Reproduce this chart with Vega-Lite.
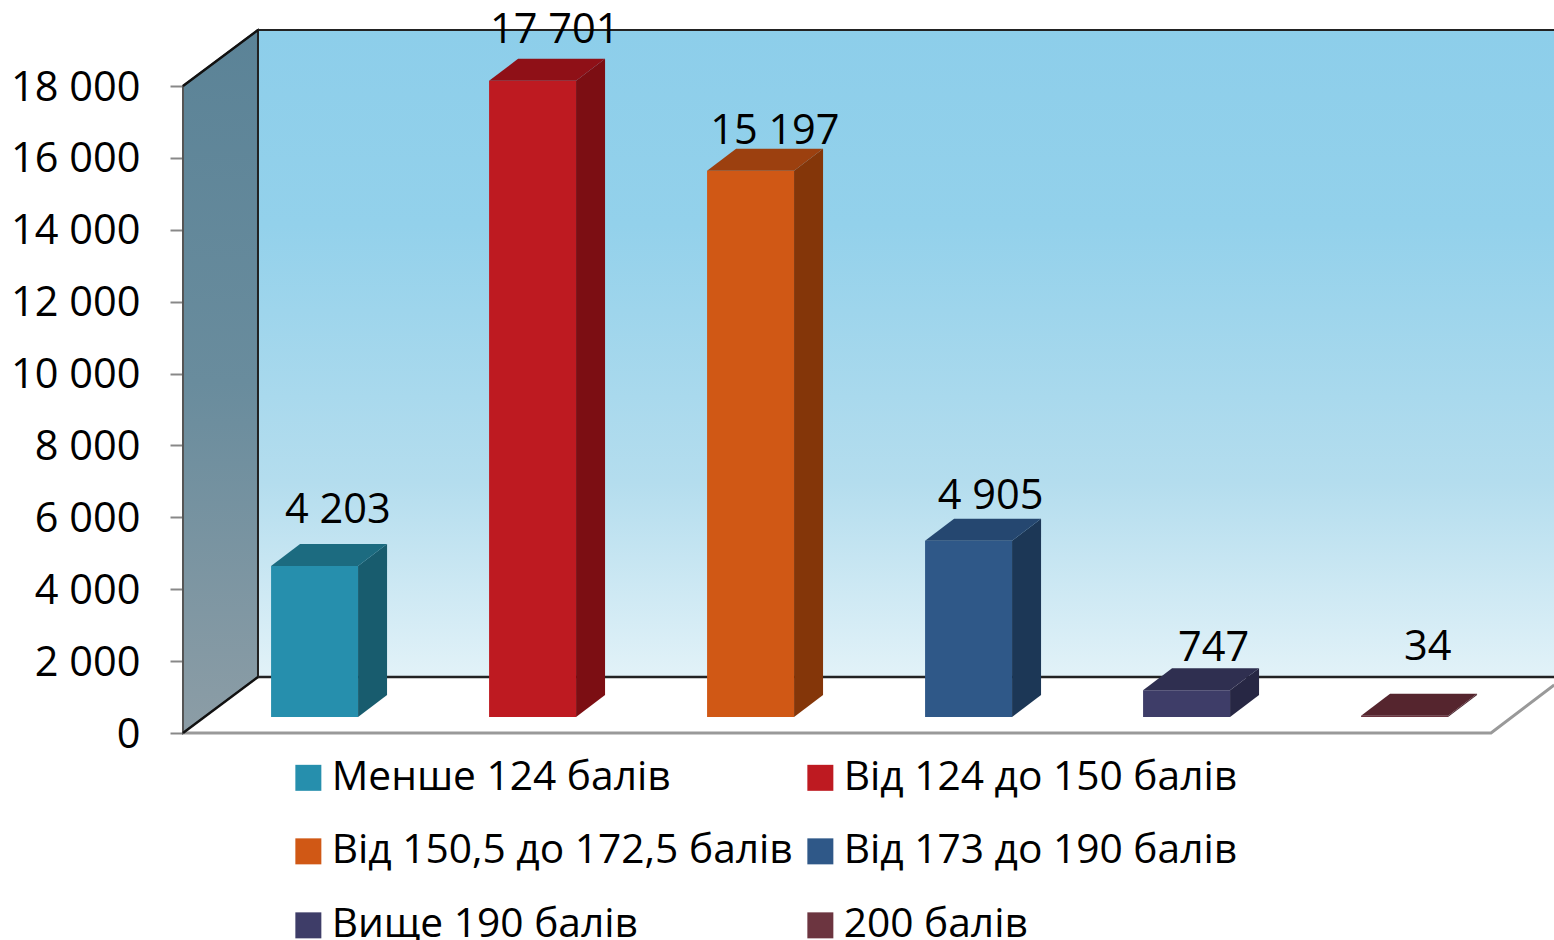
{
"$schema":"https://vega.github.io/schema/vega-lite/v6.json",
"width":1371,"height":733,
"autosize":{"type":"none"},
"padding":{"left":183,"top":0,"right":0,"bottom":207},
"background":"white",
"config":{"view":{"stroke":null},"font":"Open Sans"},
"datasets":{
"scores":[
{"category":"Менше 124 балів","students":4203},
{"category":"Від 124 до 150 балів","students":17701},
{"category":"Від 150,5 до 172,5 балів","students":15197},
{"category":"Від 173 до 190 балів","students":4905},
{"category":"Вище 190 балів","students":747},
{"category":"200 балів","students":34}
],
"corners":[{"t":0},{"t":1}]
},
"resolve":{"scale":{"color":"independent"}},
"layer":[
{"data":{"name":"corners"},
 "transform":[{"calculate":"datum.t*0.344","as":"x"},{"calculate":"datum.t*1558","as":"lo"},{"calculate":"18000+datum.t*1558","as":"hi"}],
 "mark":{"type":"area","orient":"vertical","stroke":"#555555","strokeWidth":2,"fill":{"gradient":"linear","x1":0,"y1":0,"x2":0,"y2":1,"stops":[{"offset":0,"color":"#5B8397"},{"offset":0.5,"color":"#698C9D"},{"offset":1,"color":"#8C9DA6"}]}},
 "encoding":{"x":{"field":"x","type":"quantitative","scale":{"domain":[0,6.289],"nice":false,"zero":false},"axis":null},
  "y":{"field":"lo","type":"quantitative","scale":{"domain":[0,20394],"nice":false},
   "axis":{"values":[0,2000,4000,6000,8000,10000,12000,14000,16000,18000],"title":null,"grid":false,"domain":false,"tickColor":"#888888","tickWidth":2,"tickSize":13,"labelPadding":30,"labelFontSize":41.5,"labelFontWeight":500,"labelOffset":2,"labelColor":"black","labelFont":"Open Sans","labelExpr":"replace(format(datum.value,','),',',' ')"}},
  "y2":{"field":"hi"}}},
{"data":{"name":"corners"},
 "transform":[{"calculate":"0.344+datum.t*5.96","as":"x"},{"calculate":"1558","as":"lo"},{"calculate":"19558","as":"hi"}],
 "mark":{"type":"area","orient":"vertical","stroke":"#222222","strokeWidth":2,"clip":true,"fill":{"gradient":"linear","x1":0,"y1":0,"x2":0,"y2":1,"stops":[{"offset":0,"color":"#8DCEEA"},{"offset":0.3,"color":"#93D1EB"},{"offset":0.7,"color":"#B4DDEE"},{"offset":1,"color":"#E2F2F8"}]}},
 "encoding":{"x":{"field":"x","type":"quantitative"},"y":{"field":"lo","type":"quantitative"},"y2":{"field":"hi"}}},
{"data":{"values":[{"p":0},{"p":0.344},{"p":6},{"p":6.29}]},
 "transform":[{"calculate":"datum.p","as":"x"},{"calculate":"datum.p>6?1335:0","as":"lo"},{"calculate":"datum.p>0?1558:0","as":"hi"}],
 "mark":{"type":"area","orient":"vertical","fill":"white"},
 "encoding":{"x":{"field":"x","type":"quantitative"},"y":{"field":"lo","type":"quantitative"},"y2":{"field":"hi"}}},
{"data":{"values":[{"p":0},{"p":6},{"p":6.29}]},
 "transform":[{"calculate":"datum.p","as":"x"},{"calculate":"datum.p>6?1335:0","as":"lo"}],
 "mark":{"type":"line","color":"#999999","strokeWidth":3},
 "encoding":{"x":{"field":"x","type":"quantitative"},"y":{"field":"lo","type":"quantitative"}}},
{"data":{"values":[{"p":0},{"p":0.344}]},
 "transform":[{"calculate":"datum.p","as":"x"},{"calculate":"datum.p>0?1558:0","as":"lo"}],
 "mark":{"type":"line","color":"#111111","strokeWidth":2.5},
 "encoding":{"x":{"field":"x","type":"quantitative"},"y":{"field":"lo","type":"quantitative"}}},
{"data":{"values":[{"p":0},{"p":0.344}]},
 "transform":[{"calculate":"datum.p","as":"x"},{"calculate":"18000+(datum.p>0?1558:0)","as":"lo"}],
 "mark":{"type":"line","color":"#111111","strokeWidth":2.5},
 "encoding":{"x":{"field":"x","type":"quantitative"},"y":{"field":"lo","type":"quantitative"}}},
{"data":{"values":[{"p":0.344},{"p":6.3}]},
 "transform":[{"calculate":"datum.p","as":"x"},{"calculate":"1558","as":"lo"}],
 "mark":{"type":"line","color":"#222222","strokeWidth":2.5},
 "encoding":{"x":{"field":"x","type":"quantitative"},"y":{"field":"lo","type":"quantitative"}}},
{"data":{"name":"scores"},
 "transform":[{"window":[{"op":"row_number","as":"n"}]},{"calculate":"datum.n-1+0.404","as":"x0"},{"calculate":"datum.n-1+0.803","as":"x1"},{"calculate":"datum.students+445","as":"top"},{"calculate":"445","as":"base"}],
 "mark":{"type":"rect"},
 "encoding":{"x":{"field":"x0","type":"quantitative"},"x2":{"field":"x1"},"y":{"field":"base","type":"quantitative"},"y2":{"field":"top"},
  "color":{"field":"category","type":"nominal","scale":{"domain":["Менше 124 балів","Від 124 до 150 балів","Від 150,5 до 172,5 балів","Від 173 до 190 балів","Вище 190 балів","200 балів"],"range":["#268FAD","#BE1A21","#D05815","#2F5888","#3E3D68","#6C3540"]},
   "legend":{"title":null,"orient":"none","legendX":105,"legendY":757,"columns":2,"direction":"horizontal","symbolType":"square","symbolSize":676,"symbolStrokeWidth":0,"symbolOpacity":1,"labelFontSize":40.7,"labelFontWeight":500,"labelFont":"Open Sans","labelColor":"black","labelLimit":600,"rowPadding":32,"columnPadding":7,"labelOffset":3,"gridAlign":"each"}}}},
{"data":{"name":"scores"},
 "transform":[{"window":[{"op":"row_number","as":"n"}]},{"calculate":"[0,1]","as":"t"},{"flatten":["t"]},{"calculate":"datum.n-1+0.803+datum.t*0.133","as":"x"},{"calculate":"445+datum.t*612","as":"lo"},{"calculate":"datum.students+445+datum.t*612","as":"hi"}],
 "mark":{"type":"area","orient":"vertical"},
 "encoding":{"x":{"field":"x","type":"quantitative"},"y":{"field":"lo","type":"quantitative"},"y2":{"field":"hi"},"detail":{"field":"category"},
  "color":{"field":"category","type":"nominal","legend":null,"scale":{"domain":["Менше 124 балів","Від 124 до 150 балів","Від 150,5 до 172,5 балів","Від 173 до 190 балів","Вище 190 балів","200 балів"],"range":["#185C6E","#7C0E13","#843609","#1C3756","#272744","#4A2530"]}}}},
{"data":{"name":"scores"},
 "transform":[{"window":[{"op":"row_number","as":"n"}]},{"calculate":"[0,1]","as":"t"},{"flatten":["t"]},{"calculate":"datum.n-1+0.404+datum.t*0.133","as":"lo"},{"calculate":"datum.n-1+0.803+datum.t*0.133","as":"hi"},{"calculate":"datum.students+445+datum.t*612","as":"y"}],
 "mark":{"type":"area","orient":"horizontal"},
 "encoding":{"y":{"field":"y","type":"quantitative"},"x":{"field":"lo","type":"quantitative"},"x2":{"field":"hi"},"detail":{"field":"category"},
  "color":{"field":"category","type":"nominal","legend":null,"scale":{"domain":["Менше 124 балів","Від 124 до 150 балів","Від 150,5 до 172,5 балів","Від 173 до 190 балів","Вище 190 балів","200 балів"],"range":["#1C6B80","#8F1017","#9C400F","#254770","#2F2F50","#55252E"]}}}},
{"data":{"name":"scores"},
 "transform":[{"window":[{"op":"row_number","as":"n"}]},{"calculate":"datum.n-1+[0.71,0.705,0.715,0.705,0.728,0.71][datum.n-1]","as":"x"},{"calculate":"datum.students+445+612+[337,190,-115,30,-50,690][datum.n-1]","as":"labelAt"},{"calculate":"replace(format(datum.students,','),',',' ')","as":"label"}],
 "mark":{"type":"text","fontSize":41.5,"fontWeight":500,"font":"Open Sans","color":"black","baseline":"bottom"},
 "encoding":{"x":{"field":"x","type":"quantitative"},"y":{"field":"labelAt","type":"quantitative"},"text":{"field":"label"}}}
]
}
